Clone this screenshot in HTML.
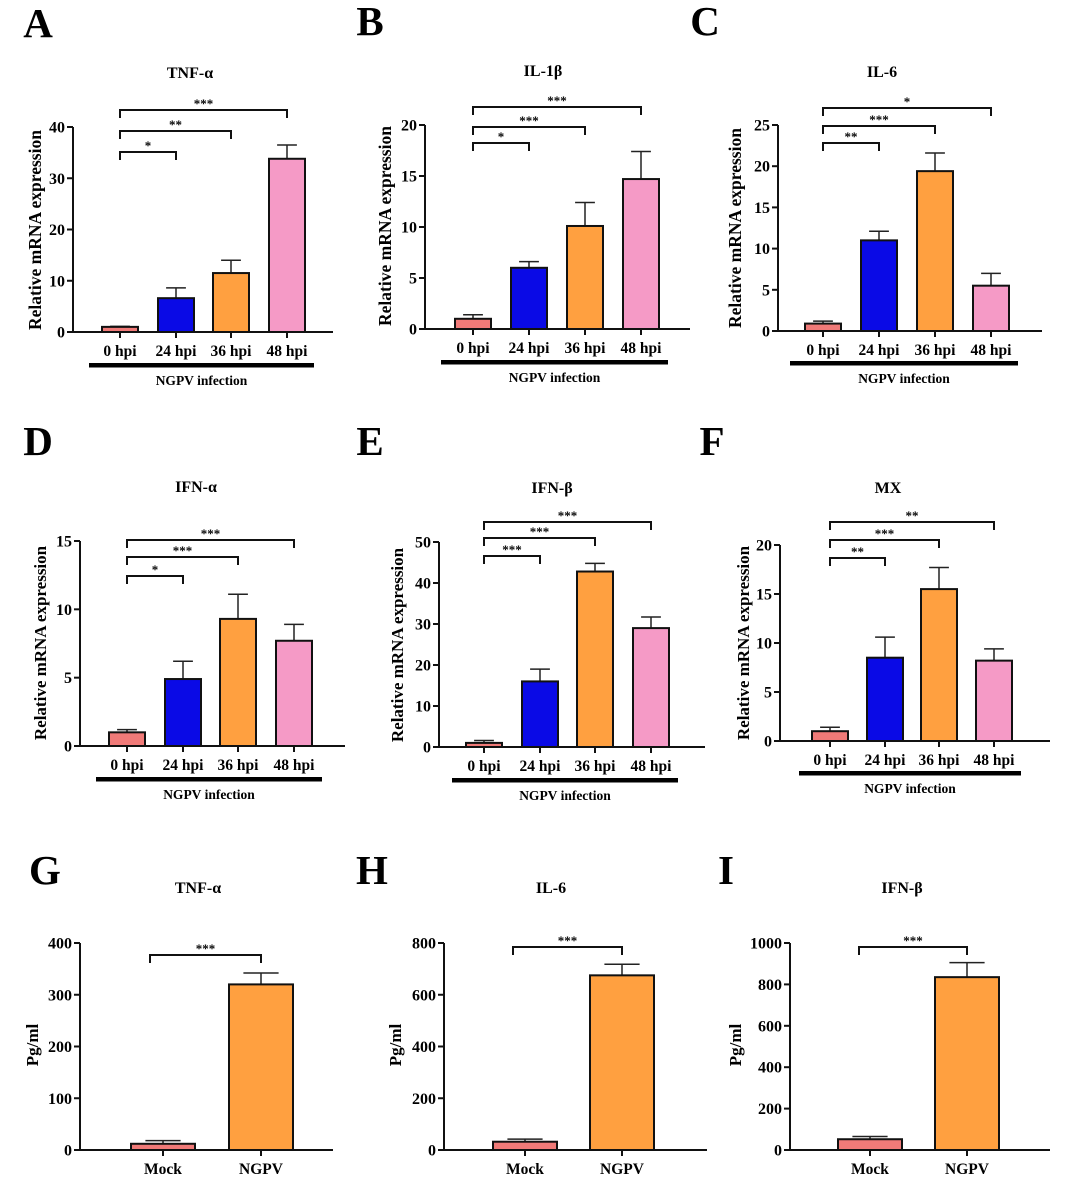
<!DOCTYPE html>
<html><head><meta charset="utf-8">
<style>
html,body{margin:0;padding:0;background:#fff;}
svg{display:block;font-family:"Liberation Serif",serif;font-weight:bold;}
</style></head>
<body>
<svg id="fig" width="1080" height="1179" viewBox="0 0 1080 1179" xmlns="http://www.w3.org/2000/svg"></svg>
<script>
// ---- data ----
const hpiCats = ["0 hpi","24 hpi","36 hpi","48 hpi"];
const elisaCats = ["Mock","NGPV"];
const tnfVals = [1, 6.6, 11.5, 33.8];
const tnfErr = [1.1, 8.6, 14.0, 36.5];
const il1bVals = [1, 6.0, 10.1, 14.7];
const il1bErr = [1.4, 6.6, 12.4, 17.4];
const il6Vals = [0.9, 11.0, 19.4, 5.5];
const il6Err = [1.2, 12.1, 21.6, 7.0];
const ifnaVals = [1, 4.9, 9.3, 7.7];
const ifnaErr = [1.2, 6.2, 11.1, 8.9];
const ifnbVals = [1, 16, 42.8, 29];
const ifnbErr = [1.6, 19, 44.8, 31.7];
const mxVals = [1, 8.5, 15.5, 8.2];
const mxErr = [1.4, 10.6, 17.7, 9.4];
const gTnfVals = [12, 320];
const gTnfErr = [18, 342];
const gIl6Vals = [32, 675];
const gIl6Err = [42, 718];
const gIfnbVals = [52, 835];
const gIfnbErr = [65, 905];
const ticksA = [0,10,20,30,40];
const ticksB = [0,5,10,15,20];
const ticksC = [0,5,10,15,20,25];
const ticksD = [0,5,10,15];
const ticksE = [0,10,20,30,40,50];
const ticksF = [0,5,10,15,20];
const ticksG = [0,100,200,300,400];
const ticksH = [0,200,400,600,800];
const ticksI = [0,200,400,600,800,1000];
const hpiColors = ["#f07a78","#0a0ae6","#ffa040","#f59ac6"];
const elisaColors = ["#f07a78","#ffa040"];

const NS = "http://www.w3.org/2000/svg";
const svg = document.getElementById("fig");
function mk(tag, attrs, parent, text){
  const e = document.createElementNS(NS, tag);
  for (const k in attrs) e.setAttribute(k, attrs[k]);
  if (text !== undefined) e.textContent = text;
  (parent||svg).appendChild(e);
  return e;
}

function panel(p){
  const g = mk("g", {});
  
  
  const ymax = p.ticks[p.ticks.length-1];
  const y = v => p.y0 - (v/ymax)*(p.y0 - p.yTop);
  const L = mk("text", {x:p.lx, y:p.ly, "font-size":41, "text-anchor":"middle"}, g, p.letter);
  
  
  const T = mk("text", {x:p.tx, y:p.ty, "font-size":16, "text-anchor":"middle"}, g, p.title);
  
  
  const yt = mk("text", {x:0, y:0, "font-size":p.ytSize, "text-anchor":"middle", transform:`translate(${p.ytx},${p.yty}) rotate(-90)`}, g, p.yTitle);
  
  
  p.vals.forEach((v,i)=>{
    const cx = p.cx[i], w = p.bw;
    const er = p.err[i];
    const cap = w*0.55;
    const el = mk("path", {d:`M${cx},${y(v)} V${y(er)} M${cx-cap/2},${y(er)} H${cx+cap/2}`, stroke:"#222", "stroke-width":1.5, fill:"none"}, g);
    
    
    const r = mk("rect", {x:cx-w/2, y:y(v), width:w, height:p.y0-y(v), fill:p.colors[i], stroke:"#111", "stroke-width":2}, g);
    
    
    const tk = mk("line", {x1:cx, x2:cx, y1:p.y0, y2:p.y0+6, stroke:"#111", "stroke-width":2}, g);
    
    
    const lb = mk("text", {x:cx, y:p.y0+24, "font-size":p.catSize, "text-anchor":"middle"}, g, p.cats[i]);
    
    
  });
  const ax = mk("path", {d:`M${p.ax},${p.yTop} V${p.y0} H${p.xEnd}`, stroke:"#111", "stroke-width":2, fill:"none"}, g);
  
  
  p.ticks.forEach(t=>{
    const tl = mk("line", {x1:p.ax-6, x2:p.ax, y1:y(t), y2:y(t), stroke:"#111", "stroke-width":2}, g);
    
    
    const tt = mk("text", {x:p.ax-8, y:y(t)+5.5, "font-size":16, "text-anchor":"end"}, g, String(t));
    
    
  });
  p.brackets.forEach(b=>{
    const x1 = p.cx[0] - (p.bOff||0), x2 = p.cx[b.to];
    const br = mk("path", {d:`M${x1},${b.y+8} V${b.y} H${x2} V${b.y+8}`, stroke:"#111", "stroke-width":2, fill:"none"}, g);
    
    
    const st = mk("text", {x:(x1+x2)/2, y:b.y-2, "font-size":13, "text-anchor":"middle"}, g, b.s);
    
    
  });
  if (p.gl){
    const gl = mk("rect", {x:p.gl[0], y:p.gl[2]-2, width:p.gl[1]-p.gl[0], height:4.5, fill:"#000"}, g);
    
    
    const gt = mk("text", {x:(p.gl[0]+p.gl[1])/2, y:p.gl[2]+20, "font-size":13.5, "text-anchor":"middle"}, g, "NGPV infection");
    
    
  }
}

const mrna = "Relative  mRNA expression";
panel({letter:"A", lx:38, ly:37, title:"TNF-α", tx:190, ty:78, yTitle:mrna, ytx:41, yty:230, ytSize:17.5,
  ticks:ticksA, vals:tnfVals, err:tnfErr, cats:hpiCats, colors:hpiColors, catSize:15.5,
  ax:73, y0:332, yTop:127, xEnd:333, cx:[120,176,231,287], bw:36,
  brackets:[{to:3,y:110,s:"***"},{to:2,y:131,s:"**"},{to:1,y:152,s:"*"}], gl:[89,314,365]});
panel({letter:"B", lx:370, ly:35, title:"IL-1β", tx:543, ty:76, yTitle:mrna, ytx:391, yty:226, ytSize:17.5,
  ticks:ticksB, vals:il1bVals, err:il1bErr, cats:hpiCats, colors:hpiColors, catSize:15.5,
  ax:425, y0:329, yTop:125, xEnd:690, cx:[473,529,585,641], bw:36,
  brackets:[{to:3,y:107,s:"***"},{to:2,y:127,s:"***"},{to:1,y:143,s:"*"}], gl:[441,668,362]});
panel({letter:"C", lx:705, ly:35, title:"IL-6", tx:882, ty:77, yTitle:mrna, ytx:741, yty:228, ytSize:17.5,
  ticks:ticksC, vals:il6Vals, err:il6Err, cats:hpiCats, colors:hpiColors, catSize:15.5,
  ax:778, y0:331, yTop:125, xEnd:1042, cx:[823,879,935,991], bw:36,
  brackets:[{to:3,y:108,s:"*"},{to:2,y:126,s:"***"},{to:1,y:143,s:"**"}], gl:[790,1018,363]});
panel({letter:"D", lx:38, ly:455, title:"IFN-α", tx:196, ty:492, yTitle:mrna, ytx:46, yty:643, ytSize:17,
  ticks:ticksD, vals:ifnaVals, err:ifnaErr, cats:hpiCats, colors:hpiColors, catSize:15.5,
  ax:80, y0:746, yTop:541, xEnd:345, cx:[127,183,238,294], bw:36,
  brackets:[{to:3,y:540,s:"***"},{to:2,y:557,s:"***"},{to:1,y:576,s:"*"}], gl:[96,322,779]});
panel({letter:"E", lx:370, ly:455, title:"IFN-β", tx:552, ty:493, yTitle:mrna, ytx:403, yty:645, ytSize:17,
  ticks:ticksE, vals:ifnbVals, err:ifnbErr, cats:hpiCats, colors:hpiColors, catSize:15.5,
  ax:439, y0:747, yTop:542, xEnd:705, cx:[484,540,595,651], bw:36,
  brackets:[{to:3,y:522,s:"***"},{to:2,y:538,s:"***"},{to:1,y:556,s:"***"}], gl:[452,678,780]});
panel({letter:"F", lx:712, ly:455, title:"MX", tx:888, ty:493, yTitle:mrna, ytx:749, yty:643, ytSize:17,
  ticks:ticksF, vals:mxVals, err:mxErr, cats:hpiCats, colors:hpiColors, catSize:15.5,
  ax:780, y0:741, yTop:545, xEnd:1050, cx:[830,885,939,994], bw:36,
  brackets:[{to:3,y:522,s:"**"},{to:2,y:540,s:"***"},{to:1,y:558,s:"**"}], gl:[799,1021,773]});
panel({letter:"G", lx:45, ly:884, title:"TNF-α", tx:198, ty:893, yTitle:"Pg/ml", ytx:38, yty:1045, ytSize:17,
  ticks:ticksG, vals:gTnfVals, err:gTnfErr, cats:elisaCats, colors:elisaColors, catSize:15.5,
  ax:80, y0:1150, yTop:943, xEnd:333, cx:[163,261], bw:64, bOff:13,
  brackets:[{to:1,y:955,s:"***"}], gl:null});
panel({letter:"H", lx:372, ly:884, title:"IL-6", tx:551, ty:893, yTitle:"Pg/ml", ytx:401, yty:1045, ytSize:17,
  ticks:ticksH, vals:gIl6Vals, err:gIl6Err, cats:elisaCats, colors:elisaColors, catSize:15.5,
  ax:444, y0:1150, yTop:943, xEnd:707, cx:[525,622], bw:64, bOff:12,
  brackets:[{to:1,y:947,s:"***"}], gl:null});
panel({letter:"I", lx:726, ly:884, title:"IFN-β", tx:902, ty:893, yTitle:"Pg/ml", ytx:741, yty:1045, ytSize:17,
  ticks:ticksI, vals:gIfnbVals, err:gIfnbErr, cats:elisaCats, colors:elisaColors, catSize:15.5,
  ax:790, y0:1150, yTop:943, xEnd:1050, cx:[870,967], bw:64, bOff:11,
  brackets:[{to:1,y:947,s:"***"}], gl:null});
</script>
</body></html>
